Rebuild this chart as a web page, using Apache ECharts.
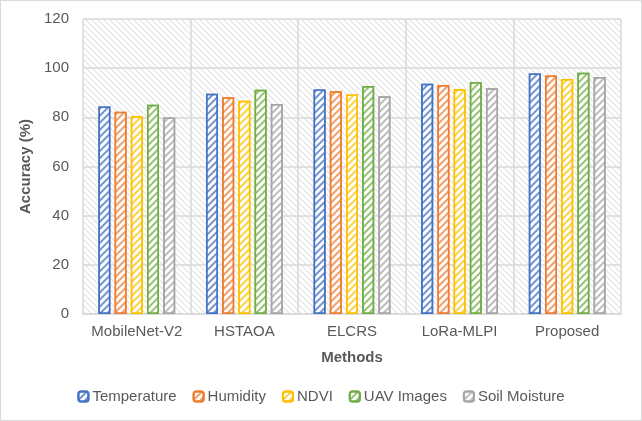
<!DOCTYPE html>
<html>
<head>
<meta charset="utf-8">
<script src="https://cdn.jsdelivr.net/npm/echarts@6/dist/echarts.min.js"></script>
<style>
  html, body { margin: 0; padding: 0; background: #fff; }
  #main { width: 640px; height: 419px; border: 1px solid #d9d9d9; }
</style>
</head>
<body>
<div id="main"></div>
<script>
// data
var methods = ['MobileNet-V2', 'HSTAOA', 'ELCRS', 'LoRa-MLPI', 'Proposed'];
var temperature = [84.4, 89.6, 91.3, 93.7, 97.8];
var humidity = [82.3, 88.2, 90.6, 93.2, 97.0];
var ndvi = [80.4, 86.7, 89.3, 91.4, 95.6];
var uavImages = [85.1, 91.2, 92.7, 94.4, 98.1];
var soilMoisture = [79.9, 85.4, 88.6, 91.8, 96.4];
var yTicks = [0, 20, 40, 60, 80, 100, 120];

var colors = ['#4472C4', '#ED7D31', '#FFC000', '#70AD47', '#A5A5A5'];
var stripes = ['rgba(68,114,196,0.75)', 'rgba(237,125,49,0.75)', 'rgba(255,192,0,0.75)', 'rgba(112,173,71,0.75)', 'rgba(165,165,165,0.75)'];
var txt = '#595959';

// diagonal hatch for the plot background
var bg = document.createElement('canvas');
bg.width = 6; bg.height = 6;
var ctx = bg.getContext('2d');
ctx.fillStyle = '#fff';
ctx.fillRect(0, 0, 6, 6);
ctx.strokeStyle = '#e3e3e3';
ctx.lineWidth = 1.2;
ctx.beginPath();
ctx.moveTo(-1, -1); ctx.lineTo(7, 7);
ctx.moveTo(-1, 5); ctx.lineTo(1, 7);
ctx.moveTo(5, -1); ctx.lineTo(7, 1);
ctx.stroke();

var chart = echarts.init(document.getElementById('main'));

function makeSeries(name, data, i) {
  return {
    name: name,
    type: 'bar',
    data: data,
    barWidth: 12,
    barGap: '35%',
    itemStyle: {
      color: '#fff',
      borderColor: colors[i],
      borderWidth: 1.5,
      decal: {
        symbol: 'rect',
        color: stripes[i],
        dashArrayX: [1, 0],
        dashArrayY: [2, 3],
        rotation: -Math.PI / 4
      }
    }
  };
}

var option = {
  animation: false,
  backgroundColor: '#fff',
  textStyle: { fontFamily: 'Liberation Sans, Arial, sans-serif' },
  grid: {
    left: 82, right: 20, top: 18, bottom: 106,
    show: true,
    borderWidth: 0,
    backgroundColor: { image: bg, repeat: 'repeat' }
  },
  legend: {
    bottom: 11,
    left: 'center',
    itemWidth: 10,
    itemHeight: 10,
    itemGap: 16,
    textStyle: { color: txt, fontSize: 15, padding: [0, 0, 0, -1] },
    data: ['Temperature', 'Humidity', 'NDVI', 'UAV Images', 'Soil Moisture']
  },
  xAxis: {
    type: 'category',
    data: methods,
    name: 'Methods',
    nameLocation: 'middle',
    nameGap: 36,
    nameTextStyle: { color: txt, fontSize: 15, fontWeight: 'bold' },
    axisLine: { lineStyle: { color: '#d9d9d9', width: 1.5 } },
    axisTick: { show: false },
    axisLabel: { color: txt, fontSize: 15, margin: 10, interval: 0 },
    splitLine: { show: true, interval: 0, lineStyle: { color: '#d9d9d9', width: 1.5 } }
  },
  yAxis: {
    type: 'value',
    min: yTicks[0],
    max: yTicks[yTicks.length - 1],
    interval: 20,
    name: 'Accuracy (%)',
    nameLocation: 'middle',
    nameGap: 43,
    nameTextStyle: { color: txt, fontSize: 15, fontWeight: 'bold' },
    axisLine: { show: false },
    axisTick: { show: false },
    axisLabel: { color: txt, fontSize: 15, margin: 14 },
    splitLine: { lineStyle: { color: '#d9d9d9', width: 1.5 } }
  },
  series: [
    makeSeries('Temperature', temperature, 0),
    makeSeries('Humidity', humidity, 1),
    makeSeries('NDVI', ndvi, 2),
    makeSeries('UAV Images', uavImages, 3),
    makeSeries('Soil Moisture', soilMoisture, 4)
  ]
};

chart.setOption(option);
</script>
</body>
</html>
